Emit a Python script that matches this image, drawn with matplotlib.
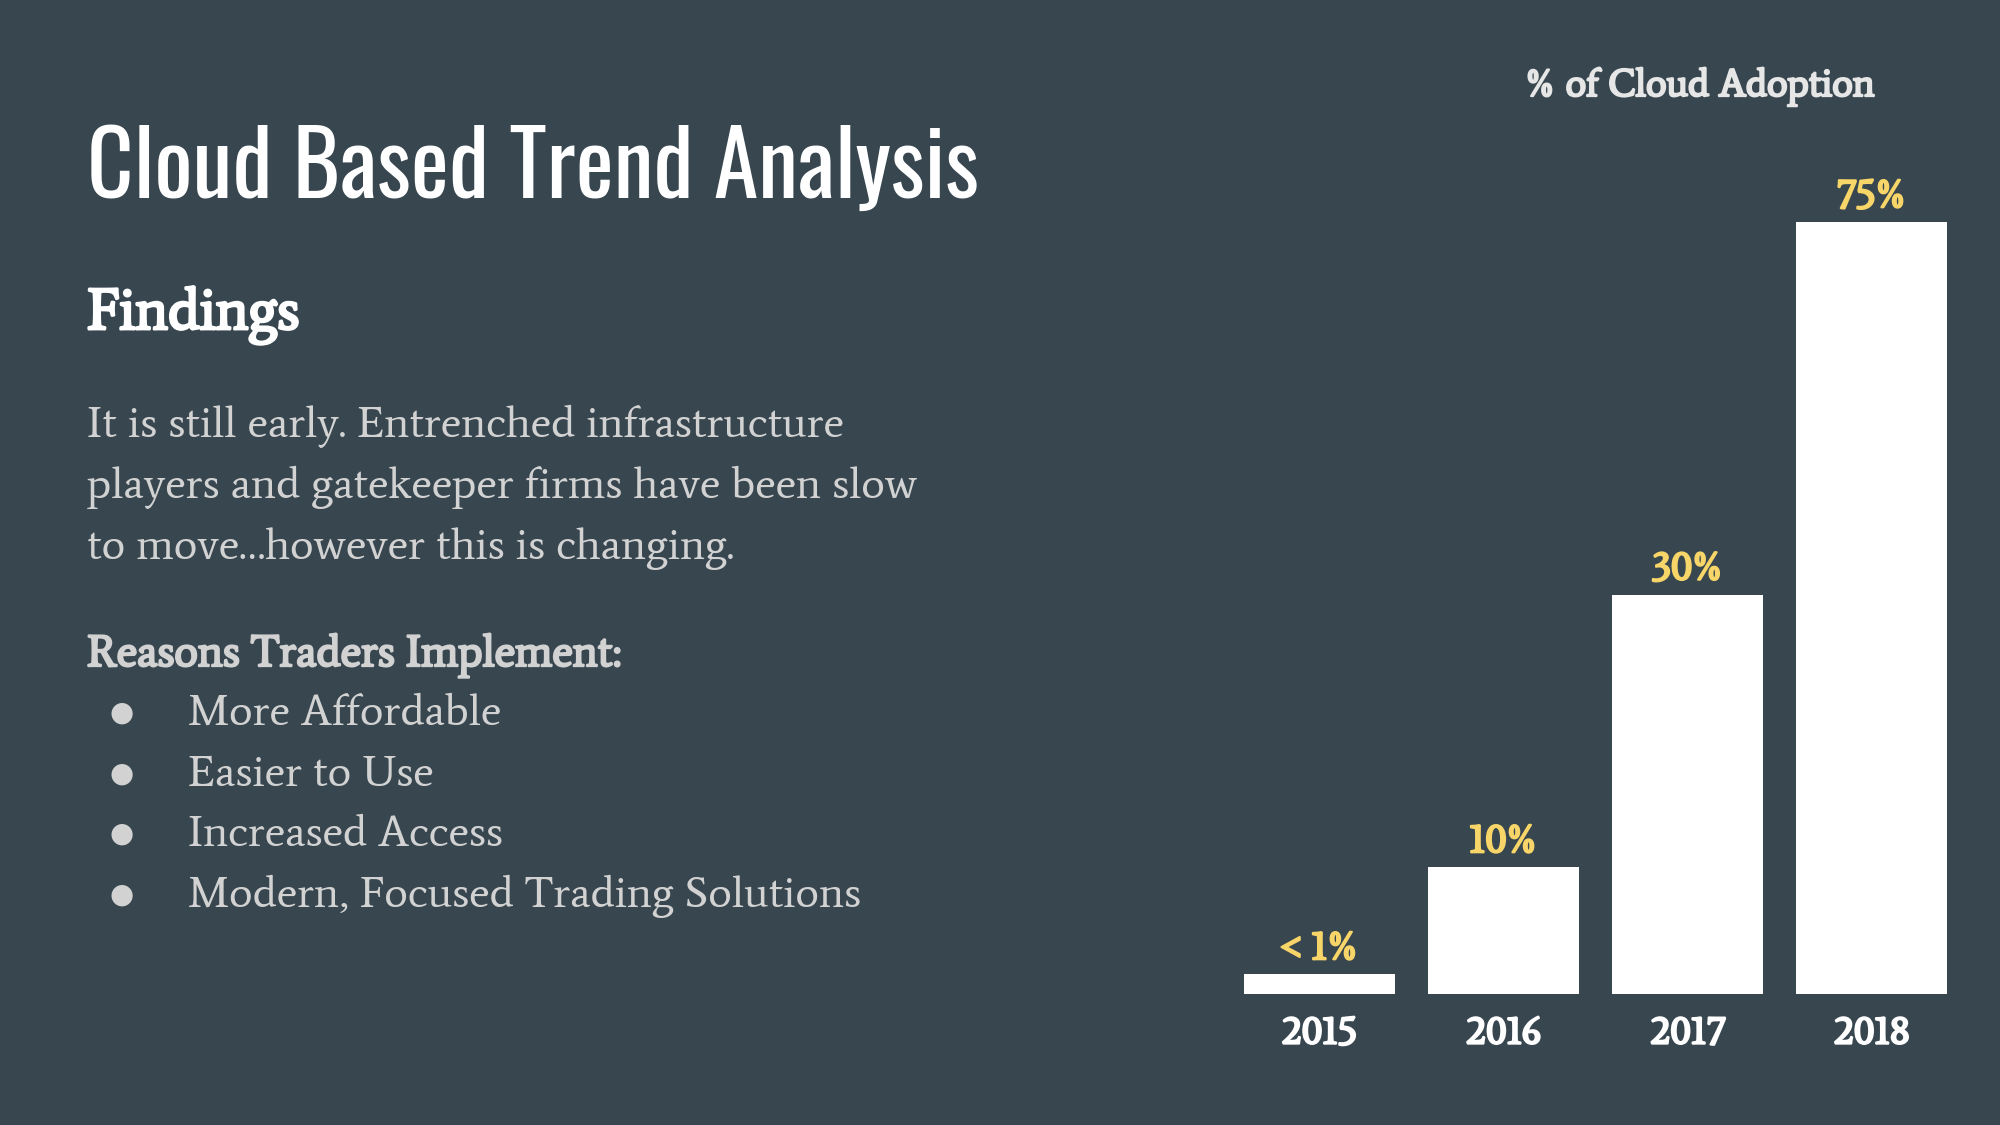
import matplotlib.pyplot as plt
import matplotlib.patheffects as pe
from matplotlib import font_manager

years = ["2015", "2016", "2017", "2018"]
bar_heights = [1.9, 12.3, 38.8, 75.0]   # drawn heights (chart is not to scale)
bar_labels = ["< 1%", "10%", "30%", "75%"]

title = "Cloud Based Trend Analysis"
subtitle = "Findings"
body_lines = ["It is still early. Entrenched infrastructure",
              "players and gatekeeper firms have been slow",
              "to move\u2026however this is changing."]
reasons_head = "Reasons Traders Implement:"
reasons = ["More Affordable", "Easier to Use", "Increased Access",
           "Modern, Focused Trading Solutions"]
chart_title = "% of Cloud Adoption"

bg = "#37464f"
yellow = "#f7d568"
light = "#d2d2d2"

names = {f.name for f in font_manager.fontManager.ttflist}
head_font = "Oswald" if "Oswald" in names else "DejaVu Sans"
body_font = "Average" if "Average" in names else "Liberation Serif"

W, H = 2000, 1125
fig = plt.figure(figsize=(20, 11.25), dpi=100, facecolor=bg)

def fy(py):
    return 1 - py / H

def fake_bold(color, w=1.6):
    return [pe.withStroke(linewidth=w, foreground=color)]

# left text block
fig.text(87 / W, fy(198), title, family=head_font, fontsize=65, color="white",
         va="baseline", ha="left")
fig.text(87 / W, fy(329), subtitle, family=body_font, fontsize=42, color="white",
         va="baseline", path_effects=fake_bold("white", 2.0))
for i, line in enumerate(body_lines):
    fig.text(87 / W, fy(437 + i * 61), line, family=body_font, fontsize=32,
             color=light, va="baseline")
fig.text(87 / W, fy(666), reasons_head, family=body_font, fontsize=32,
         color=light, va="baseline", path_effects=fake_bold(light))
for i, r in enumerate(reasons):
    y = 725 + i * 60.5
    fig.text(122 / W, fy(y - 12), "\u25cf", family="DejaVu Sans", fontsize=20,
             color=light, va="center", ha="center")
    fig.text(188 / W, fy(y), r, family=body_font, fontsize=32, color=light,
             va="baseline")

# bar chart
ax = fig.add_axes([1227.5 / W, 1 - 994 / H, (1964 - 1227.5) / W, 823 / H])
ax.set_facecolor(bg)
x = range(len(years))
bars = ax.bar(x, bar_heights, width=0.82, color="white")
ax.set_xlim(-0.5, 3.5)
ax.set_ylim(0, 80)
for s in ax.spines.values():
    s.set_visible(False)
ax.set_yticks([])
ax.set_xticks(list(x))
ax.set_xticklabels(years, family=body_font, fontsize=28, color="white",
                   path_effects=fake_bold("white"))
ax.tick_params(axis="x", length=0, pad=15)
for b, lab in zip(bars, bar_labels):
    ax.annotate(lab, (b.get_x() + b.get_width() / 2, b.get_height()),
                xytext=(0, 3), textcoords="offset points", ha="center",
                va="bottom", family=body_font, fontsize=29, color=yellow,
                path_effects=fake_bold(yellow))

fig.text(1700 / W, fy(96), chart_title, family=body_font, fontsize=28,
         color="#e6e6e6", ha="center", va="baseline",
         path_effects=fake_bold("#e6e6e6"))

fig.savefig("out.png", dpi=100, facecolor=bg)
